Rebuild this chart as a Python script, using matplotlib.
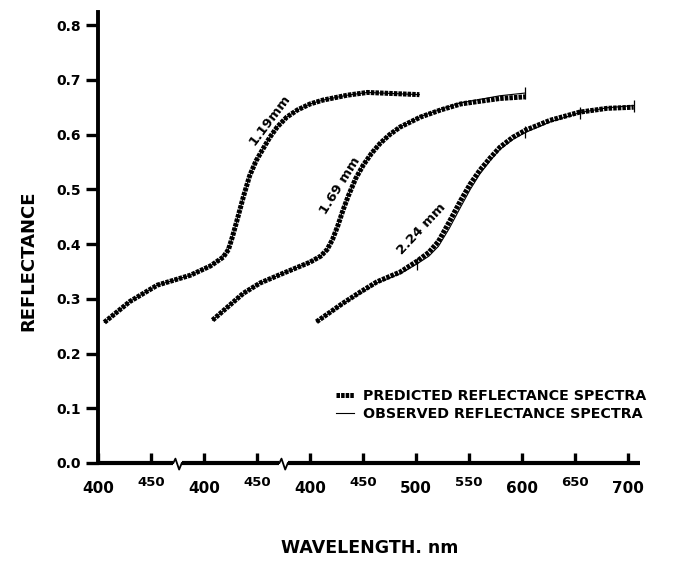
import matplotlib
matplotlib.use('Agg')
import matplotlib.pyplot as plt

plt.rcParams['font.family'] = 'DejaVu Sans'
plt.rcParams['font.weight'] = 'bold'

# Wavelengths (nm) and reflectances
wl_119 = [406, 430, 456, 487, 506, 518, 523, 527, 532, 537, 543, 549, 555, 562, 569,
          578, 588, 600, 612, 635, 654, 703]
pred_119 = [0.257, 0.295, 0.325, 0.343, 0.360, 0.376, 0.390, 0.415, 0.450, 0.486,
            0.525, 0.552, 0.572, 0.595, 0.614, 0.632, 0.645, 0.656, 0.663, 0.672,
            0.677, 0.673]
obs_119 = pred_119

wl_169 = [408, 437, 453, 475, 500, 510, 516, 521, 526, 531, 536, 543, 550, 558, 566,
          575, 585, 604, 623, 642, 679, 703]
pred_169 = [0.261, 0.310, 0.329, 0.347, 0.367, 0.378, 0.390, 0.408, 0.433, 0.462,
            0.488, 0.520, 0.544, 0.566, 0.584, 0.600, 0.614, 0.632, 0.645, 0.656,
            0.666, 0.669]
obs_169 = [0.261, 0.310, 0.329, 0.347, 0.367, 0.378, 0.390, 0.409, 0.434, 0.463,
           0.489, 0.520, 0.544, 0.566, 0.584, 0.600, 0.614, 0.633, 0.646, 0.658,
           0.671, 0.676]

wl_224 = [406, 431, 447, 463, 485, 501, 512, 521, 531, 542, 551, 560, 570, 579, 591,
          603, 626, 654, 680, 705]
pred_224 = [0.258, 0.292, 0.312, 0.331, 0.349, 0.369, 0.385, 0.405, 0.440, 0.480,
            0.510, 0.535, 0.558, 0.577, 0.595, 0.608, 0.626, 0.641, 0.648, 0.650]
obs_224 = [0.258, 0.291, 0.310, 0.329, 0.346, 0.364, 0.378, 0.396, 0.428, 0.468,
           0.500, 0.528, 0.553, 0.573, 0.591, 0.604, 0.623, 0.640, 0.649, 0.653]

curves = [
    ('1.19mm', wl_119, pred_119, obs_119, []),
    ('1.69 mm', wl_169, pred_169, obs_169, [21]),
    ('2.24 mm', wl_224, pred_224, obs_224, [5, 15, 17, 19]),
]

# each curve sits on its own piece of the broken wavelength axis
seg_offsets = [0, 100, 200]
seg_ticks = [[400, 450], [400, 450], [400, 450, 500, 550, 600, 650, 700]]
breaks = [75, 175]

label_pos = [(162, 0.627, 53), (228, 0.507, 58), (305, 0.428, 47)]


def to_axis(wl, k):
    return [w - 400 + seg_offsets[k] for w in wl]


fig = plt.figure(figsize=(6.76, 5.64), dpi=100)
ax = fig.add_axes([98 / 676, 101 / 564, 542 / 676, 451 / 564])

dash = (0, (0.7, 0.22))
for k, (name, wl, pred, obs, marks) in enumerate(curves):
    x = to_axis(wl, k)
    ax.plot(x, pred, color='black', lw=3.6, linestyle=dash,
            dash_capstyle='butt', dash_joinstyle='round', zorder=3)
    ax.plot(x, obs, color='black', lw=0.8, zorder=4)
    if marks:
        ax.plot([x[i] for i in marks], [obs[i] for i in marks], ls='none',
                marker='|', ms=9, mew=0.9, color='black', zorder=4)
    lx, ly, rot = label_pos[k]
    ax.text(lx, ly, name, rotation=rot, ha='center', va='center',
            fontsize=9.5, fontweight='bold', zorder=5)

ax.set_xlim(0, 511)
ax.set_ylim(0, 0.824)

for s in ['top', 'right', 'bottom']:
    ax.spines[s].set_visible(False)
ax.spines['left'].set_linewidth(2.8)

# y axis
ax.set_yticks([0.0, 0.1, 0.2, 0.3, 0.4, 0.5, 0.6, 0.7, 0.8])
ax.set_yticklabels(['0.0', '0.1', '0.2', '0.3', '0.4', '0.5', '0.6', '0.7', '0.8'])
ax.tick_params(axis='y', direction='out', length=9, width=2.4, pad=3,
               labelsize=10)

# x axis drawn by hand because of the breaks
tick_pos = []
tick_lab = []
for k, ticks in enumerate(seg_ticks):
    for t in ticks:
        tick_pos.append(t - 400 + seg_offsets[k])
        tick_lab.append(str(t))
ax.set_xticks(tick_pos)
ax.set_xticklabels([])
ax.tick_params(axis='x', direction='in', length=7, width=2.4, bottom=True)

edges = [0] + [b for b in breaks for _ in range(2)] + [511]
for i in range(0, len(edges), 2):
    a, b = edges[i], edges[i + 1]
    a = a + 4 if i > 0 else a
    b = b - 4 if i + 2 < len(edges) else b
    ax.plot([a, b], [0, 0], color='black', lw=3.0, solid_capstyle='butt',
            clip_on=False, zorder=5)
for b in breaks:
    ax.plot([b - 4, b - 2, b + 1.5, b + 4], [0, 0.008, -0.012, 0],
            color='black', lw=1.3, clip_on=False, zorder=5)

xt = ax.get_xaxis_transform()
for p, lab in zip(tick_pos, tick_lab):
    if lab.endswith('50'):
        ax.text(p, -0.043, lab, transform=xt, ha='center', va='center',
                fontsize=9.5, fontweight='bold')
    else:
        ax.text(p, -0.056, lab, transform=xt, ha='center', va='center',
                fontsize=11, fontweight='bold')

# legend
h_pred, = ax.plot([], [], color='black', lw=3.6, linestyle=dash, dash_capstyle='butt')
h_obs, = ax.plot([], [], color='black', lw=0.8)
leg = ax.legend([h_pred, h_obs],
                ['PREDICTED REFLECTANCE SPECTRA', 'OBSERVED REFLECTANCE SPECTRA'],
                loc='upper left', bbox_to_anchor=(0.425, 0.180), frameon=False,
                handlelength=1.3, handletextpad=0.6, borderpad=0, labelspacing=0.3,
                prop={'size': 10.3, 'weight': 'bold'})

fig.text(28 / 676, 1 - 261 / 564, 'REFLECTANCE', rotation=90, ha='center',
         va='center', fontsize=13, fontweight='bold')
fig.text(370 / 676, 1 - 548 / 564, 'WAVELENGTH. nm', ha='center', va='center',
         fontsize=12.5, fontweight='bold')

fig.savefig('out.png', dpi=100)
